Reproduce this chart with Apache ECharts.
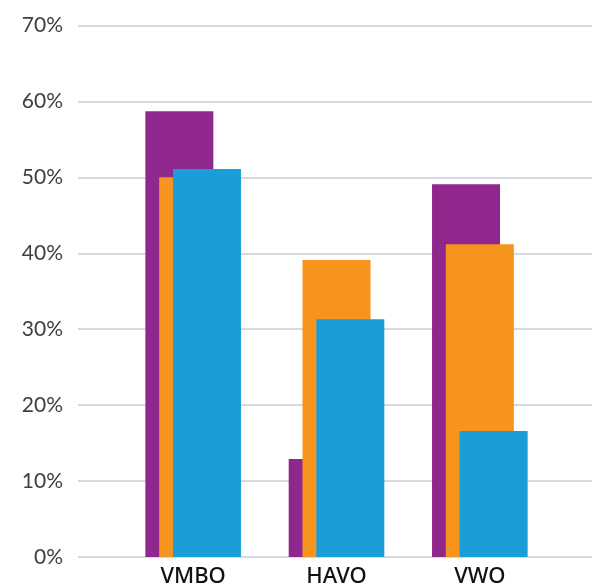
<!DOCTYPE html>
<html>
<head>
<meta charset="utf-8">
<script src="https://cdn.jsdelivr.net/npm/echarts@6/dist/echarts.min.js"></script>
<style>
html,body{margin:0;padding:0;background:#fff;}
#c{width:592px;height:588px;}
</style>
</head>
<body>
<div id="c"></div>
<script>
var categories = ['VMBO', 'HAVO', 'VWO'];
var purpleValues = [58.7, 12.9, 49.1];
var orangeValues = [50.0, 39.1, 41.2];
var blueValues = [51.1, 31.3, 16.6];
var yTicks = [0, 10, 20, 30, 40, 50, 60, 70];

var chart = echarts.init(document.getElementById('c'), null, {renderer: 'canvas'});
var yMax = yTicks[yTicks.length - 1];
function bar(name, data, color) {
  return {
    name: name, type: 'bar', data: data,
    xAxisIndex: 1, yAxisIndex: 1,
    barWidth: 68, barGap: '-79.7%',
    itemStyle: {color: color},
    animation: false
  };
}
chart.setOption({
  animation: false,
  grid: [
    {left: 78, right: 0, top: 25.5, bottom: 31},
    {left: 121.5, width: 430, top: 25.5, bottom: 31}
  ],
  xAxis: [
    {gridIndex: 0, type: 'category', data: categories, show: false},
    {gridIndex: 1, type: 'category', data: categories,
     axisLine: {show: false}, axisTick: {show: false},
     axisLabel: {color: '#111111', fontFamily: 'Noto Sans', fontWeight: 500, fontSize: 22, margin: 9}}
  ],
  yAxis: [
    {gridIndex: 0, type: 'value', min: 0, max: yMax, interval: 10,
     axisLine: {show: false}, axisTick: {show: false},
     axisLabel: {color: '#3f3f3f', fontFamily: 'Lato', fontSize: 21, margin: 15,
       formatter: function (v) { return v + '%'; }},
     splitLine: {lineStyle: {color: '#d8d8e3', width: 2}}},
    {gridIndex: 1, type: 'value', min: 0, max: yMax, interval: 10, show: false,
     splitLine: {show: false}}
  ],
  series: [
    bar('purple', purpleValues, '#90278c'),
    bar('orange', orangeValues, '#f7941e'),
    bar('blue', blueValues, '#1a9ed9')
  ]
});
</script>
</body>
</html>
